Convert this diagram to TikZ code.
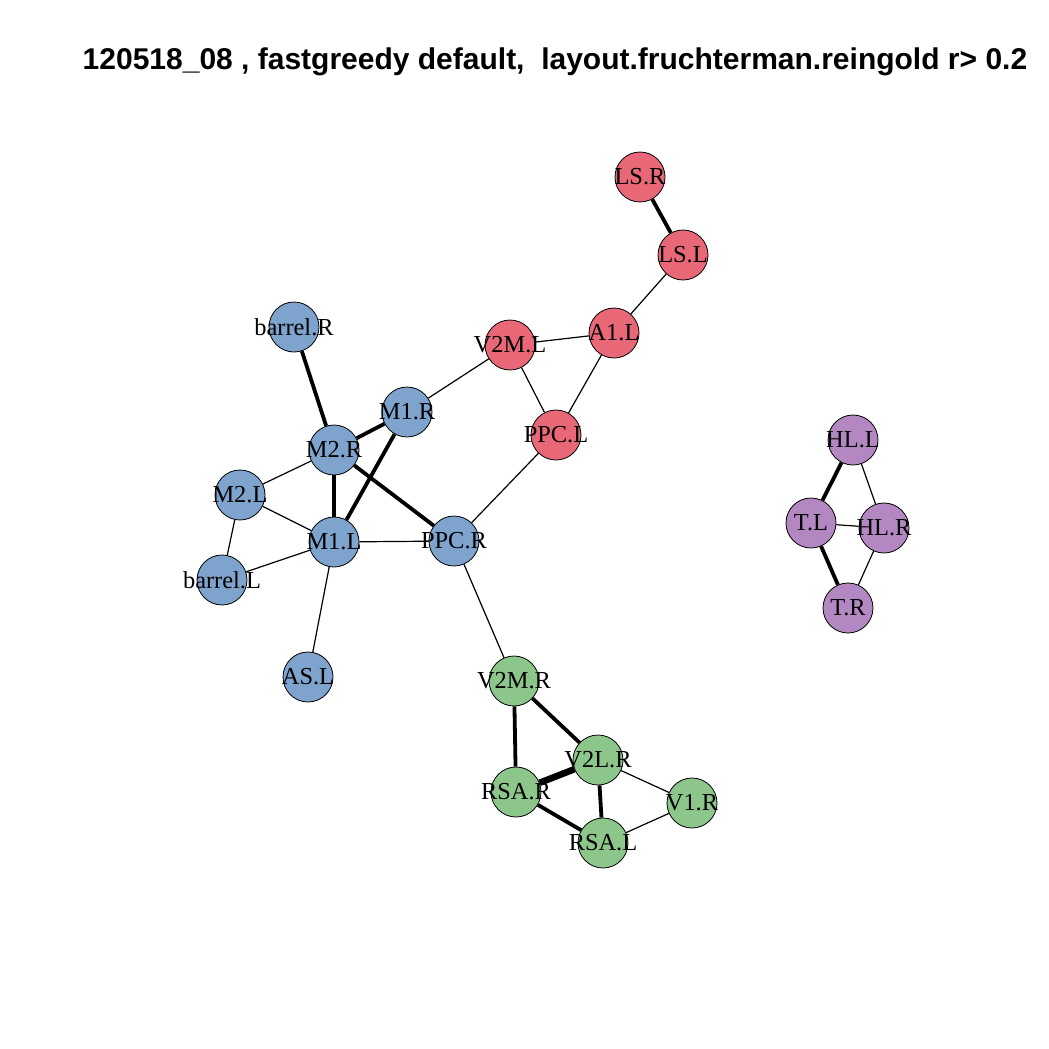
\documentclass[tikz,border=0pt]{standalone}
\usepackage{fontspec}
\setmainfont{Liberation Serif}
\newfontfamily\titlefont{Liberation Sans}
\definecolor{grpred}{RGB}{232,104,120}
\definecolor{grpblue}{RGB}{126,163,204}
\definecolor{grpgreen}{RGB}{141,198,139}
\definecolor{grppurple}{RGB}{179,136,194}
\begin{document}
\begin{tikzpicture}[
	x=0.5pt,y=-0.5pt,
	v/.style={circle,draw=black,thin,minimum size=25pt,inner sep=0pt,font=\fontsize{12.2}{12}\selectfont,
		execute at begin node={\hbox to 0pt\bgroup\hss},execute at end node={\hss\egroup}},
	vr/.style={v,fill=grpred},
	vb/.style={v,fill=grpblue},
	vg/.style={v,fill=grpgreen},
	vp/.style={v,fill=grppurple},
	w1/.style={draw=black,line width=0.6pt},
	w2/.style={draw=black,line width=1.9pt},
	w3/.style={draw=black,line width=3.3pt}
]
	\useasboundingbox (0,0) rectangle (1049,1049);

	\node[font=\titlefont\bfseries\fontsize{15}{16}\selectfont] (title) at (555,62) {120518\_08 , fastgreedy default,\ \ layout.fruchterman.reingold r> 0.2};

	% red group
	\node[vr] (LSR) at (640,177) {LS.R};
	\node[vr] (LSL) at (683,255) {LS.L};
	\node[vr] (A1L) at (614,333) {A1.L};
	\node[vr] (V2ML) at (510,345) {V2M.L};
	\node[vr] (PPCL) at (556,435) {PPC.L};

	% blue group
	\node[vb] (barrelR) at (294,327) {barrel.R};
	\node[vb] (M1R) at (407,412) {M1.R};
	\node[vb] (M2R) at (334,450) {M2.R};
	\node[vb] (M2L) at (240,495) {M2.L};
	\node[vb] (M1L) at (334,542) {M1.L};
	\node[vb] (PPCR) at (454,541) {PPC.R};
	\node[vb] (barrelL) at (222,580) {barrel.L};
	\node[vb] (ASL) at (308,677) {AS.L};

	% green group
	\node[vg] (V2MR) at (514,681) {V2M.R};
	\node[vg] (V2LR) at (598,760) {V2L.R};
	\node[vg] (RSAR) at (516,792) {RSA.R};
	\node[vg] (V1R) at (692,803) {V1.R};
	\node[vg] (RSAL) at (603,843) {RSA.L};

	% purple group
	\node[vp] (HLL) at (853,440) {HL.L};
	\node[vp] (TL) at (811,523) {T.L};
	\node[vp] (HLR) at (884,528) {HL.R};
	\node[vp] (TR) at (848,608) {T.R};

	% edges
	\draw[w2] (LSR) -- (LSL);
	\draw[w1] (LSL) -- (A1L);
	\draw[w1] (A1L) -- (V2ML);
	\draw[w1] (A1L) -- (PPCL);
	\draw[w1] (V2ML) -- (PPCL);
	\draw[w1] (V2ML) -- (M1R);
	\draw[w1] (PPCL) -- (PPCR);

	\draw[w2] (barrelR) -- (M2R);
	\draw[w2] (M2R) -- (M1R);
	\draw[w2] (M1R) -- (M1L);
	\draw[w2] (M2R) -- (M1L);
	\draw[w2] (M2R) -- (PPCR);
	\draw[w1] (M2R) -- (M2L);
	\draw[w1] (M2L) -- (M1L);
	\draw[w1] (M2L) -- (barrelL);
	\draw[w1] (barrelL) -- (M1L);
	\draw[w1] (M1L) -- (PPCR);
	\draw[w1] (M1L) -- (ASL);
	\draw[w1] (PPCR) -- (V2MR);

	\draw[w2] (V2MR) -- (RSAR);
	\draw[w2] (V2MR) -- (V2LR);
	\draw[w3] (V2LR) -- (RSAR);
	\draw[w2] (V2LR) -- (RSAL);
	\draw[w2] (RSAR) -- (RSAL);
	\draw[w1] (V2LR) -- (V1R);
	\draw[w1] (V1R) -- (RSAL);

	\draw[w2] (HLL) -- (TL);
	\draw[w1] (HLL) -- (HLR);
	\draw[w1] (TL) -- (HLR);
	\draw[w2] (TL) -- (TR);
	\draw[w1] (HLR) -- (TR);

\end{tikzpicture}
\end{document}
